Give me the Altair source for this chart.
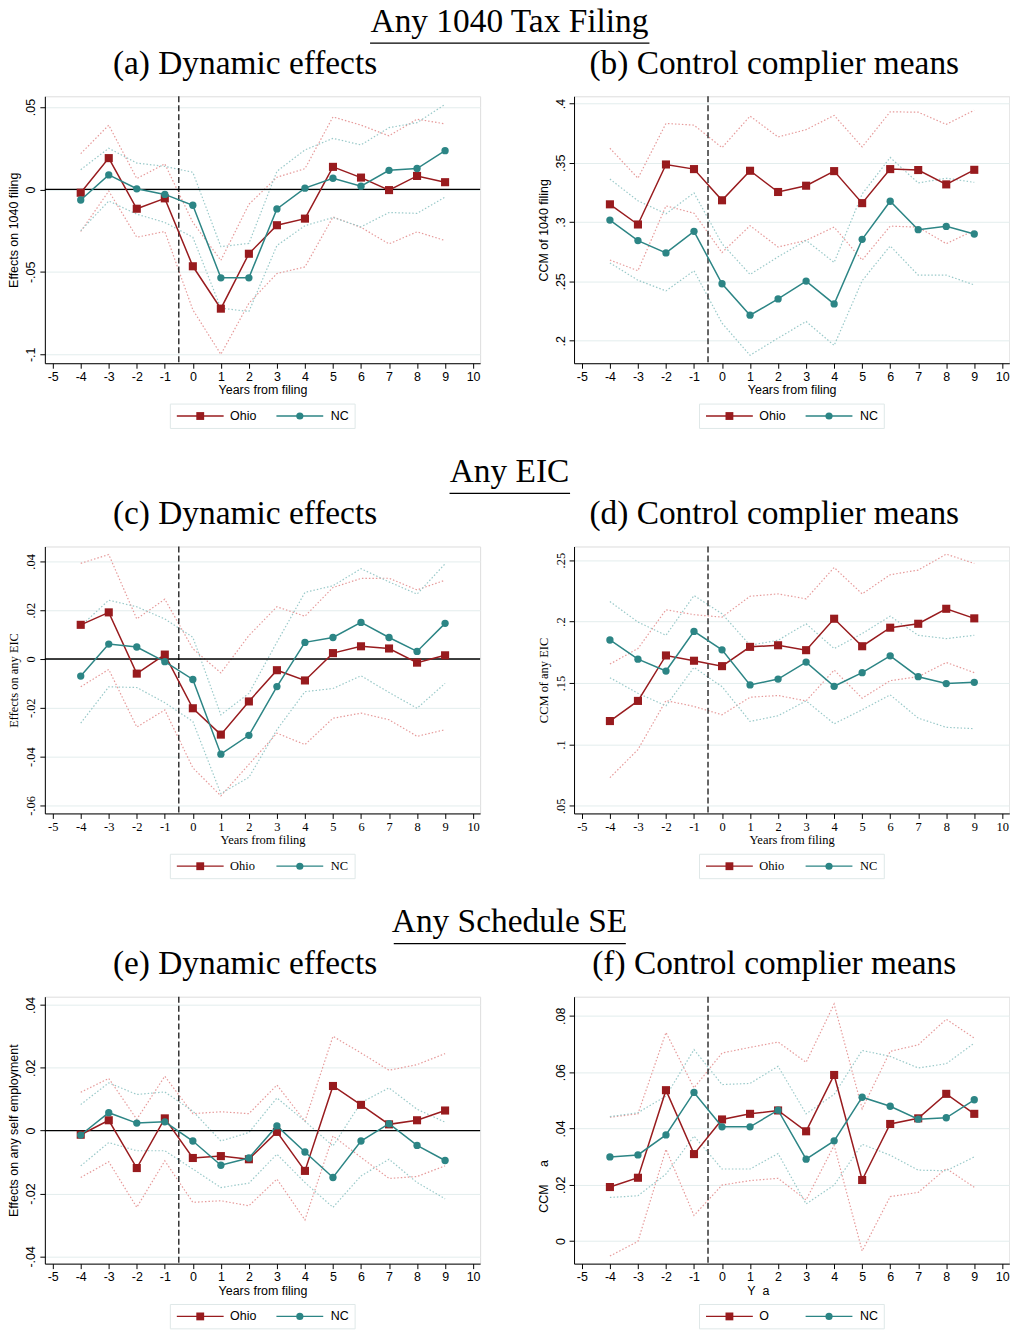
import altair as alt
import pandas as pd

years = list(range(-4, 10))

# ---------------- Panel (a): Any 1040 filing, dynamic effects
a_ohio = [-0.002, 0.019, -0.0117, -0.0054, -0.0466, -0.0723, -0.039, -0.0217, -0.0177, 0.0137, 0.0072, -0.0004, 0.0082, 0.0044]
a_ohio_hi = [0.0217, 0.039, 0.0066, 0.0155, -0.020, -0.043, -0.009, 0.0074, 0.0126, 0.044, 0.039, 0.0325, 0.0426, 0.0398]
a_ohio_lo = [-0.0255, -0.001, -0.029, -0.0255, -0.073, -0.100, -0.069, -0.051, -0.047, -0.0167, -0.023, -0.033, -0.0257, -0.031]
a_nc = [-0.0064, 0.0088, 0.0004, -0.003, -0.0096, -0.0536, -0.0536, -0.0118, 0.0008, 0.0068, 0.002, 0.0116, 0.0127, 0.0235]
a_nc_hi = [0.012, 0.025, 0.016, 0.014, 0.0104, -0.0347, -0.0327, 0.011, 0.024, 0.031, 0.027, 0.0375, 0.0405, 0.0516]
a_nc_lo = [-0.025, -0.007, -0.015, -0.020, -0.029, -0.072, -0.074, -0.034, -0.022, -0.017, -0.0227, -0.014, -0.0145, -0.0046]

# ---------------- Panel (b): Any 1040 filing, control complier means
b_ohio = [0.315, 0.298, 0.3486, 0.3447, 0.3184, 0.3433, 0.3254, 0.3307, 0.343, 0.316, 0.3447, 0.3439, 0.3318, 0.3441]
b_ohio_hi = [0.3623, 0.337, 0.3832, 0.3818, 0.3628, 0.3894, 0.3718, 0.378, 0.390, 0.3634, 0.393, 0.3927, 0.3824, 0.3944]
b_ohio_lo = [0.268, 0.259, 0.3137, 0.3075, 0.2743, 0.297, 0.279, 0.2846, 0.2958, 0.268, 0.2966, 0.2958, 0.2818, 0.293]
b_nc = [0.3017, 0.2844, 0.274, 0.2922, 0.248, 0.2215, 0.2352, 0.2503, 0.231, 0.2855, 0.3176, 0.2936, 0.2964, 0.290]
b_nc_hi = [0.3363, 0.318, 0.307, 0.3246, 0.2818, 0.2559, 0.2707, 0.2846, 0.266, 0.3237, 0.3545, 0.333, 0.337, 0.3335]
b_nc_lo = [0.2656, 0.251, 0.242, 0.259, 0.2148, 0.1877, 0.2022, 0.2162, 0.196, 0.2506, 0.2799, 0.2553, 0.2553, 0.247]

# ---------------- Panel (c): Any EIC, dynamic effects
c_ohio = [0.014, 0.0191, -0.006, 0.0018, -0.0202, -0.031, -0.0174, -0.0046, -0.0088, 0.0024, 0.0052, 0.0043, -0.0015, 0.0015]
c_ohio_hi = [0.0392, 0.0428, 0.0164, 0.0245, 0.0042, -0.0057, 0.0096, 0.0214, 0.0175, 0.0293, 0.033, 0.0331, 0.0283, 0.0323]
c_ohio_lo = [-0.0114, -0.0043, -0.0279, -0.0209, -0.0446, -0.0561, -0.0432, -0.0304, -0.0351, -0.0243, -0.0222, -0.0249, -0.0317, -0.029]
c_nc = [-0.007, 0.0061, 0.0049, -0.0011, -0.0084, -0.039, -0.0313, -0.0113, 0.0068, 0.0088, 0.015, 0.0088, 0.0031, 0.0146]
c_nc_hi = [0.0135, 0.0241, 0.0214, 0.0164, 0.0089, -0.0229, -0.0141, 0.0069, 0.0273, 0.030, 0.037, 0.0316, 0.0266, 0.039]
c_nc_lo = [-0.0263, -0.0114, -0.0117, -0.0179, -0.0256, -0.0552, -0.0485, -0.029, -0.0134, -0.0121, -0.0069, -0.0137, -0.0202, -0.010]

# ---------------- Panel (d): Any EIC, control complier means
d_ohio = [0.119, 0.1354, 0.1724, 0.1681, 0.1637, 0.1794, 0.1807, 0.1767, 0.2023, 0.1799, 0.195, 0.1982, 0.2104, 0.2026]
d_ohio_hi = [0.1654, 0.178, 0.2096, 0.2056, 0.2036, 0.2206, 0.2225, 0.2185, 0.244, 0.2225, 0.2381, 0.2419, 0.2549, 0.2473]
d_ohio_lo = [0.0729, 0.0958, 0.1357, 0.1309, 0.1241, 0.1384, 0.1398, 0.1354, 0.1605, 0.1376, 0.1519, 0.1551, 0.1667, 0.1584]
d_nc = [0.185, 0.1694, 0.1597, 0.192, 0.177, 0.1484, 0.1532, 0.167, 0.1473, 0.1584, 0.1721, 0.1551, 0.1495, 0.1505]
d_nc_hi = [0.2163, 0.1996, 0.1888, 0.2212, 0.2063, 0.1807, 0.1848, 0.1982, 0.178, 0.1902, 0.2044, 0.1888, 0.1861, 0.1888]
d_nc_lo = [0.1543, 0.1416, 0.1314, 0.1627, 0.147, 0.1187, 0.1233, 0.1354, 0.1168, 0.1282, 0.1403, 0.1214, 0.1139, 0.1128]

# ---------------- Panel (e): Any Schedule SE, dynamic effects
e_ohio = [-0.0013, 0.0033, -0.0119, 0.0039, -0.0087, -0.0081, -0.0091, -0.0004, -0.0128, 0.0142, 0.0082, 0.002, 0.0033, 0.0064]
e_ohio_hi = [0.0122, 0.0166, 0.0036, 0.0173, 0.0054, 0.006, 0.0054, 0.0145, 0.003, 0.030, 0.0247, 0.0192, 0.021, 0.0245]
e_ohio_lo = [-0.0149, -0.0099, -0.0244, -0.0096, -0.0228, -0.0223, -0.0239, -0.0154, -0.0284, -0.0017, -0.0085, -0.0152, -0.0146, -0.0112]
e_nc = [-0.0014, 0.0057, 0.0024, 0.0028, -0.0033, -0.011, -0.0087, 0.0015, -0.0068, -0.0149, -0.0033, 0.0022, -0.0047, -0.0095]
e_nc_hi = [0.0083, 0.0152, 0.0115, 0.0123, 0.0062, -0.0033, -0.0006, 0.0104, 0.003, -0.0049, 0.0089, 0.0136, 0.0068, 0.0027]
e_nc_lo = [-0.0112, -0.0038, -0.0064, -0.0064, -0.0122, -0.0181, -0.0167, -0.0075, -0.0165, -0.0244, -0.0144, -0.0091, -0.0165, -0.0217]

# ---------------- Panel (f): Any Schedule SE, control complier means
f_ohio = [0.0192, 0.0225, 0.0536, 0.0309, 0.0432, 0.0452, 0.0464, 0.039, 0.059, 0.0217, 0.0416, 0.0436, 0.0523, 0.0452]
f_ohio_hi = [0.044, 0.0452, 0.0741, 0.0544, 0.0668, 0.0688, 0.0707, 0.0635, 0.0842, 0.047, 0.0674, 0.0697, 0.0788, 0.0721]
f_ohio_lo = [-0.0053, -0.0001, 0.0326, 0.0091, 0.0199, 0.0215, 0.0223, 0.0146, 0.034, -0.0035, 0.0158, 0.0173, 0.0258, 0.0191]
f_nc = [0.0299, 0.0306, 0.0377, 0.0528, 0.0406, 0.0406, 0.0465, 0.0291, 0.0356, 0.0511, 0.0479, 0.0433, 0.0438, 0.0502]
f_nc_hi = [0.0442, 0.0456, 0.0515, 0.068, 0.0556, 0.056, 0.0621, 0.0452, 0.0521, 0.0677, 0.0656, 0.0615, 0.063, 0.0703]
f_nc_lo = [0.0155, 0.0161, 0.0238, 0.0373, 0.0256, 0.0256, 0.0311, 0.0132, 0.0199, 0.0344, 0.0305, 0.0252, 0.025, 0.0299]

x_ticks = list(range(-5, 11))
event_line = [-0.5]
zero_line = [0]

NBSP = "\u00a0"
SANS = "Liberation Sans"
SERIF = "Liberation Serif"
TITLE_FONT = "Liberation Serif"
TITLE_SIZE = 33.5

OHIO_C = "#981b1e"
NC_C = "#2c8585"
OHIO_CI = "#e69a9a"
NC_CI = "#99c9c9"
GRID_C = "#e3eded"

W, H = 437, 268
XDOM = [-5.28, 10.25]


def make_df(ohio, ohio_lo, ohio_hi, nc, nc_lo, nc_hi):
    rows = []
    for name, est, lo, hi in (("Ohio", ohio, ohio_lo, ohio_hi), ("NC", nc, nc_lo, nc_hi)):
        for yr, e, l, h in zip(years, est, lo, hi):
            rows.append({"year": yr, "est": e, "lo": l, "hi": h, "series": name})
    return pd.DataFrame(rows)


def one(**kw):
    return pd.DataFrame([kw]) if kw else pd.DataFrame([{"k": 0}])


def panel(df, ydom, yticks, ytitle, xtitle, font, subtitle, zero, legend_names,
          section=None, underline=None, xtitle_pos=None, ytitle_pos=None):
    xscale = alt.Scale(domain=XDOM, nice=False, zero=False)
    yscale = alt.Scale(domain=ydom, nice=False, zero=False)
    common = dict(domainColor="black", tickColor="black", labelColor="black",
                  titleColor="black", labelFont=font, titleFont=font,
                  labelFontSize=12.5, titleFontSize=12.5, titleFontWeight="normal",
                  tickSize=5, domainWidth=1, tickWidth=1, labelFlush=False,
                  labelOverlap=False)
    xextra = {}
    if xtitle_pos is not None:
        xextra = dict(titleX=xtitle_pos, titleAlign="left")
    yextra = {}
    if ytitle_pos is not None:
        yextra = dict(titleY=ytitle_pos, titleAlign="left")
    xaxis = alt.Axis(values=x_ticks, grid=False, labelPadding=2, titlePadding=1,
                     labelExpr="replace(datum.label, '\u2212', '-')", **common, **xextra)
    yaxis = alt.Axis(values=yticks, grid=True, gridColor=GRID_C, gridWidth=1,
                     labelAngle=-90, labelAlign="center", labelBaseline="bottom",
                     labelPadding=2, titlePadding=4,
                     labelExpr="replace(replace(format(datum.value, '~g'), '\u2212', '-'), '0.', '.')",
                     **common, **yextra)

    def X(f):
        return alt.X(f"{f}:Q", scale=xscale, axis=xaxis, title=xtitle)

    def Y(f):
        return alt.Y(f"{f}:Q", scale=yscale, axis=yaxis, title=ytitle)

    layers = []
    # confidence bands (dotted)
    for name, col in (("Ohio", OHIO_CI), ("NC", NC_CI)):
        sub = df[df.series == name]
        for f in ("lo", "hi"):
            layers.append(alt.Chart(sub).mark_line(color=col, strokeWidth=1.2, strokeDash=[1.5, 2])
                          .encode(x=X("year"), y=Y(f)))
    if zero:
        layers.append(alt.Chart(pd.DataFrame({"zy": zero_line})).mark_rule(color="black", strokeWidth=1.3)
                      .encode(y=Y("zy")))
    layers.append(alt.Chart(pd.DataFrame({"vx": event_line})).mark_rule(color="black", strokeWidth=1.2, strokeDash=[6, 3])
                  .encode(x=X("vx")))
    # estimates
    for name, col, shape, size in (("Ohio", OHIO_C, "square", 66), ("NC", NC_C, "circle", 54)):
        sub = df[df.series == name]
        layers.append(alt.Chart(sub).mark_line(color=col, strokeWidth=1.5)
                      .encode(x=X("year"), y=Y("est")))
        layers.append(alt.Chart(sub).mark_point(color=col, shape=shape, size=size, filled=True, opacity=1)
                      .encode(x=X("year"), y=Y("est")))

    # legend (manual, Stata style)
    ly = 321
    layers.append(alt.Chart(one()).mark_rect(fill="white", stroke="#dfe8e8", strokeWidth=1)
                  .encode(x=alt.value(126), x2=alt.value(311.5), y=alt.value(309), y2=alt.value(333.5)))
    for (nm, col, shape, size, x1, x2, xm, xt) in (
            (legend_names[0], OHIO_C, "square", 62, 132.5, 179.5, 156, 186),
            (legend_names[1], NC_C, "circle", 52, 232.5, 279.5, 256, 287)):
        layers.append(alt.Chart(one()).mark_rule(color=col, strokeWidth=1.3)
                      .encode(x=alt.value(x1), x2=alt.value(x2), y=alt.value(ly)))
        layers.append(alt.Chart(one()).mark_point(color=col, shape=shape, size=size, filled=True, opacity=1)
                      .encode(x=alt.value(xm), y=alt.value(ly)))
        layers.append(alt.Chart(one(t=nm)).mark_text(font=font, fontSize=12.5, align="left",
                                                     baseline="middle", color="black")
                      .encode(x=alt.value(xt), y=alt.value(ly), text="t:N"))

    # subtitle
    layers.append(alt.Chart(one(t=subtitle)).mark_text(font=TITLE_FONT, fontSize=TITLE_SIZE, align="center",
                                                       baseline="alphabetic", color="black")
                  .encode(x=alt.value(201), y=alt.value(-22.3), text="t:N"))
    if section:
        layers.append(alt.Chart(one(t=section)).mark_text(font=TITLE_FONT, fontSize=TITLE_SIZE, align="center",
                                                          baseline="alphabetic", color="black")
                      .encode(x=alt.value(466.5), y=alt.value(-64.5), text="t:N"))
        layers.append(alt.Chart(one()).mark_rule(color="black", strokeWidth=1.3)
                      .encode(x=alt.value(underline[0]), x2=alt.value(underline[1]), y=alt.value(-53.3)))

    return alt.layer(*layers).properties(width=W, height=H)


pa = panel(make_df(a_ohio, a_ohio_lo, a_ohio_hi, a_nc, a_nc_lo, a_nc_hi),
           [-0.1054, 0.0565], [-0.1, -0.05, 0, 0.05], "Effects on 1040 filing", "Years from filing",
           SANS, "(a) Dynamic effects", True, ["Ohio", "NC"],
           section="Any 1040 Tax Filing", underline=(326.5, 607))
pb = panel(make_df(b_ohio, b_ohio_lo, b_ohio_hi, b_nc, b_nc_lo, b_nc_hi),
           [0.181, 0.4061], [0.2, 0.25, 0.3, 0.35, 0.4], "CCM of 1040 filing", "Years from filing",
           SANS, "(b) Control complier means", False, ["Ohio", "NC"])
pc = panel(make_df(c_ohio, c_ohio_lo, c_ohio_hi, c_nc, c_nc_lo, c_nc_hi),
           [-0.0633, 0.0461], [-0.06, -0.04, -0.02, 0, 0.02, 0.04], "Effects on any EIC", "Years from filing",
           SERIF, "(c) Dynamic effects", True, ["Ohio", "NC"],
           section="Any EIC", underline=(406.3, 527.3))
pd_ = panel(make_df(d_ohio, d_ohio_lo, d_ohio_hi, d_nc, d_nc_lo, d_nc_hi),
            [0.0438, 0.2611], [0.05, 0.1, 0.15, 0.2, 0.25], "CCM of any EIC", "Years from filing",
            SERIF, "(d) Control complier means", False, ["Ohio", "NC"])
pe = panel(make_df(e_ohio, e_ohio_lo, e_ohio_hi, e_nc, e_nc_lo, e_nc_hi),
           [-0.0423, 0.0426], [-0.04, -0.02, 0, 0.02, 0.04], "Effects on any self employment", "Years from filing",
           SANS, "(e) Dynamic effects", True, ["Ohio", "NC"],
           section="Any Schedule SE", underline=(350.3, 583.3))
pf = panel(make_df(f_ohio, f_ohio_lo, f_ohio_hi, f_nc, f_nc_lo, f_nc_hi),
           [-0.008, 0.0868], [0, 0.02, 0.04, 0.06, 0.08],
           "CCM" + NBSP * 5 + "a", "Y" + NBSP * 2 + "a",
           SANS, "(f) Control complier means", False, ["O", "NC"],
           xtitle_pos=173.5, ytitle_pos=216.3)

chart = alt.concat(pa, pb, pc, pd_, pe, pf, columns=2,
                   spacing=alt.RowColnumber(row=184, column=94.3),
                   bounds="flush").properties(
    padding={"left": -1, "top": -6, "right": 0, "bottom": 0}
).configure_view(stroke=None).configure(background="white")

chart.save("out.html", embed_options={"renderer": "svg", "actions": False})
